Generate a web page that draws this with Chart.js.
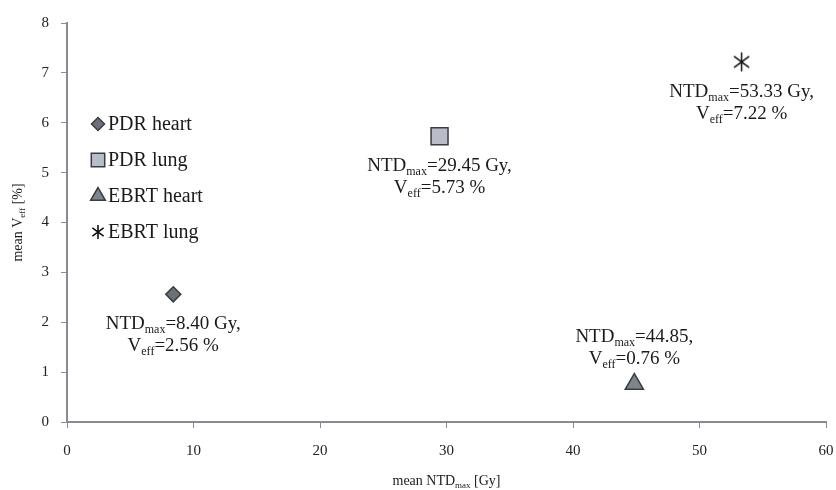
<!DOCTYPE html>
<html>
<head>
<meta charset="utf-8">
<script src="https://cdn.jsdelivr.net/npm/chart.js@4/dist/chart.umd.min.js"></script>
<style>
  html, body { margin: 0; padding: 0; background: #fff; }
  #wrap { width: 836px; height: 490px; }
</style>
</head>
<body>
<div id="wrap"><canvas id="chart" width="836" height="490"></canvas></div>
<script>
// ---- data ----
const seriesNames = ["PDR heart", "PDR lung", "EBRT heart", "EBRT lung"];
const xValues = [8.40, 29.45, 44.85, 53.33];   // mean NTDmax [Gy]
const yValues = [2.56, 5.73, 0.76, 7.22];      // mean Veff [%]
const ntdLabels = ["=8.40 Gy,", "=29.45 Gy,", "=44.85,", "=53.33 Gy,"];
const veffLabels = ["=2.56 %", "=5.73 %", "=0.76 %", "=7.22 %"];
const labelAbove = [false, false, true, false];
const xTicks = [0, 10, 20, 30, 40, 50, 60];
const yTicks = [0, 1, 2, 3, 4, 5, 6, 7, 8];

const SERIF = '"Liberation Serif", "Times New Roman", serif';
const AXIS = "#878b93";
const EDGE = "#3c3c3c";

// asterisk marker (3 strokes) since chart.js 'star' has 4
function asterisk(size, lw) {
  const c = document.createElement("canvas");
  c.width = size; c.height = size;
  const g = c.getContext("2d");
  const m = size / 2, r = size / 2 - 1;
  g.strokeStyle = "#111"; g.lineWidth = lw;
  g.beginPath();
  g.moveTo(m, m - r); g.lineTo(m, m + r);
  const dx = r * 0.8, dy = r * 0.6;
  g.moveTo(m - dx, m - dy); g.lineTo(m + dx, m + dy);
  g.moveTo(m + dx, m - dy); g.lineTo(m - dx, m + dy);
  g.stroke();
  return c;
}

const styles = [
  { pointStyle: "rectRot", radius: 7.5, legendRadius: 6.5, bg: "#6b7079" },
  { pointStyle: "rect", radius: 12, legendRadius: 9.5, bg: "#b8bec8" },
  { pointStyle: "triangle", radius: 10.5, legendRadius: 8.5, bg: "#7f858e" },
  { pointStyle: asterisk(21, 1.5), radius: 10, legendImg: asterisk(16, 1.6), bg: "#111" },
];

const datasets = seriesNames.map((name, i) => ({
  label: name,
  data: [{ x: xValues[i], y: yValues[i] }],
  pointStyle: styles[i].pointStyle,
  pointRadius: styles[i].radius,
  pointHoverRadius: styles[i].radius,
  backgroundColor: styles[i].bg,
  borderColor: EDGE,
  borderWidth: 1.5,
}));

// text with subscript segments: [[text, isSub], ...]
function richWidth(ctx, segs, size) {
  let w = 0;
  for (const [t, sub] of segs) {
    ctx.font = `${sub ? Math.round(size * 0.62) : size}px ${SERIF}`;
    w += ctx.measureText(t).width;
  }
  return w;
}
function drawRich(ctx, segs, cx, cy, size) {
  let x = cx - richWidth(ctx, segs, size) / 2;
  ctx.textAlign = "left";
  ctx.textBaseline = "middle";
  for (const [t, sub] of segs) {
    ctx.font = `${sub ? Math.round(size * 0.62) : size}px ${SERIF}`;
    ctx.fillText(t, x, sub ? cy + size * 0.3 : cy);
    x += ctx.measureText(t).width;
  }
}

const extras = {
  id: "extras",
  afterDraw(chart) {
    const { ctx, chartArea: a, scales } = chart;
    ctx.save();
    ctx.fillStyle = "#1a1a1a";

    // point annotations
    xValues.forEach((xv, i) => {
      const px = scales.x.getPixelForValue(xv);
      const py = scales.y.getPixelForValue(yValues[i]);
      const y1 = labelAbove[i] ? py - 47 : py + 30;
      drawRich(ctx, [["NTD", false], ["max", true], [ntdLabels[i], false]], px, y1, 19);
      drawRich(ctx, [["V", false], ["eff", true], [veffLabels[i], false]], px, y1 + 22, 19);
    });

    // legend inside plot
    const lx = a.left + 31, ly0 = a.top + 101, step = 36;
    seriesNames.forEach((name, i) => {
      const y = ly0 + i * step;
      const s = styles[i];
      if (s.legendImg) {
        ctx.drawImage(s.legendImg, lx - s.legendImg.width / 2, y - s.legendImg.height / 2);
      } else {
        ctx.fillStyle = s.bg;
        ctx.strokeStyle = EDGE;
        ctx.lineWidth = 1.5;
        Chart.helpers.drawPoint(ctx, { pointStyle: s.pointStyle, radius: s.legendRadius, borderWidth: 1.5, rotation: 0 }, lx, y);
      }
      ctx.fillStyle = "#1a1a1a";
      ctx.font = `20px ${SERIF}`;
      ctx.textAlign = "left";
      ctx.textBaseline = "middle";
      ctx.fillText(name, lx + 10, y + 1);
    });

    // axis titles
    drawRich(ctx, [["mean NTD", false], ["max", true], [" [Gy]", false]], (a.left + a.right) / 2, 481, 14);
    ctx.translate(18, (a.top + a.bottom) / 2);
    ctx.rotate(-Math.PI / 2);
    drawRich(ctx, [["mean V", false], ["eff", true], [" [%]", false]], 0, 0, 14);
    ctx.restore();
  },
};

new Chart(document.getElementById("chart"), {
  type: "scatter",
  data: { datasets },
  options: {
    responsive: false,
    animation: false,
    events: [],
    layout: { autoPadding: false, padding: { top: 23, right: 10, left: 0, bottom: 0 } },
    plugins: { legend: { display: false }, tooltip: { enabled: false } },
    scales: {
      x: {
        type: "linear",
        min: xTicks[0], max: xTicks[xTicks.length - 1],
        afterFit: (s) => { s.height = 68; s.paddingRight = 0; s.paddingLeft = 0; },
        afterBuildTicks: (s) => { s.ticks = xTicks.map((v) => ({ value: v })); },
        ticks: { color: "#222", font: { family: SERIF, size: 15 }, padding: 14 },
        grid: { drawOnChartArea: false, tickLength: 6, color: AXIS },
        border: { color: AXIS, width: 2 },
      },
      y: {
        type: "linear",
        min: yTicks[0], max: yTicks[yTicks.length - 1],
        afterFit: (s) => { s.width = 67; },
        afterBuildTicks: (s) => { s.ticks = yTicks.map((v) => ({ value: v })); },
        ticks: { color: "#222", font: { family: SERIF, size: 15 }, padding: 12 },
        grid: { drawOnChartArea: false, tickLength: 6, color: AXIS },
        border: { color: AXIS, width: 2 },
      },
    },
  },
  plugins: [extras],
});
</script>
</body>
</html>
